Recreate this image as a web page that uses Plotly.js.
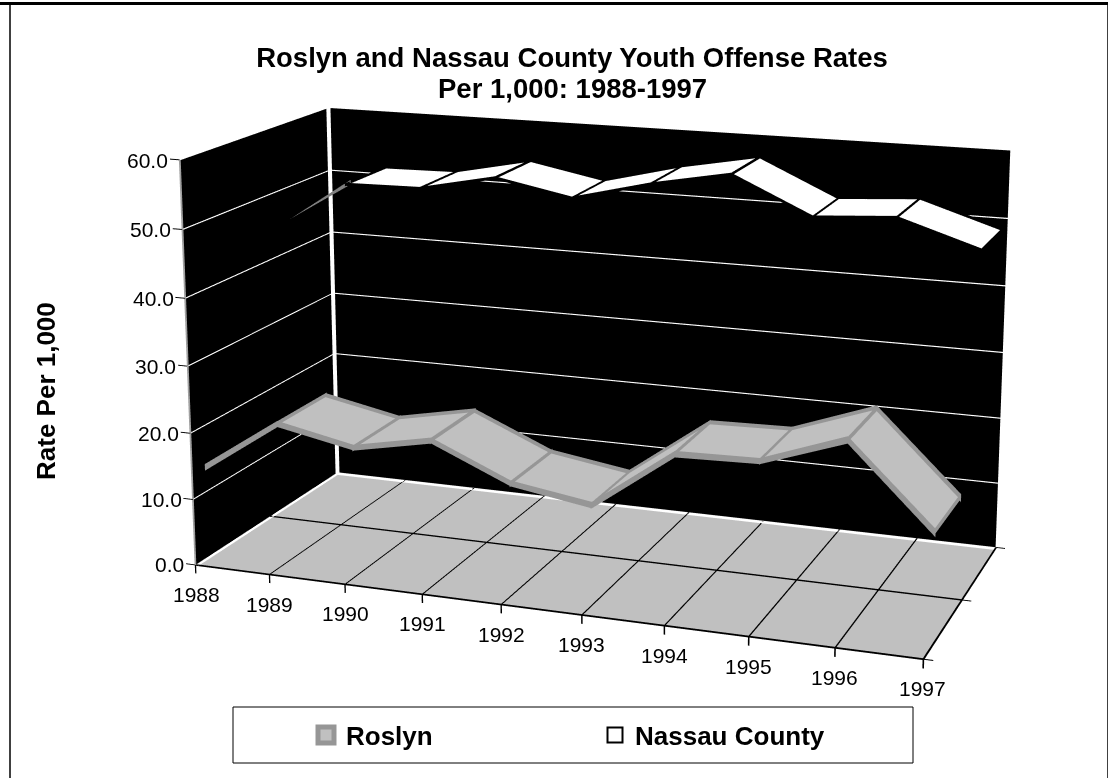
<!DOCTYPE html>
<html><head><meta charset="utf-8"><script src="https://cdn.plot.ly/plotly-3.0.1.min.js"></script>
<style>
html,body{margin:0;padding:0;background:#fff;overflow:hidden}
#stage{position:relative;width:1108px;height:778px;overflow:hidden}
#scene3d{position:absolute;left:-87px;top:-783px}
#overlay{position:absolute;left:0;top:0}
</style></head>
<body><div id="stage"><div id="scene3d"></div><div id="overlay"></div></div>
<script>
// Youth offense rates per 1,000, 1988-1997
const years = [1988,1989,1990,1991,1992,1993,1994,1995,1996,1997];
const roslyn = [13.7,21.5,19.2,21.5,16.5,14.7,23.3,23.6,27.8,16.4];
const nassau = [44.8,52.0,52.2,54.6,52.4,55.3,57.5,52.2,53.0,49.3];
const rateTicks = [0,10,20,30,40,50,60];
const seriesNames = ['Roslyn','Nassau County'];
const chartTitle = 'Roslyn and Nassau County Youth Offense Rates';
const chartSubtitle = 'Per 1,000: 1988-1997';
const rateTitle = 'Rate Per 1,000';

const FONT = 'Arial, "Liberation Sans", sans-serif';
const GREY_FILL = '#c0c0c0', GREY_EDGE = '#969696';
const X0 = years[0], X1 = years[years.length - 1];
const DEPTH = 2, ZMAX = 60;

// Coplanar marks are pushed slightly along the viewing ray so they stay on top.
const TOWARD_VIEWER = [0.015, -0.021, 0.14];
// Rate units per year that look equally long on screen; keeps steep rims as wide as flat ones.
const SCREEN_SLOPE = 0.082;

function newMesh(color) {
  return { type:'mesh3d', x:[], y:[], z:[], i:[], j:[], k:[], color, opacity:1, flatshading:true,
    lighting:{ambient:1,diffuse:0,specular:0,roughness:1,fresnel:0}, hoverinfo:'skip', showscale:false };
}
function quad(mesh, corners, level) {
  const n = mesh.x.length;
  corners.forEach(c => {
    mesh.x.push(c[0] + level * TOWARD_VIEWER[0]);
    mesh.y.push(c[1] + level * TOWARD_VIEWER[1]);
    mesh.z.push(c[2] + level * TOWARD_VIEWER[2]);
  });
  mesh.i.push(n, n); mesh.j.push(n + 1, n + 2); mesh.k.push(n + 2, n + 3);
}
// Straight bars with a thickness along one data axis
function barZ(m, a, b, hw, level, hwEnd) {
  const e = hwEnd === undefined ? hw : hwEnd;
  quad(m, [[a[0],a[1],a[2]-hw],[b[0],b[1],b[2]-e],[b[0],b[1],b[2]+e],[a[0],a[1],a[2]+hw]], level);
}
function barX(m, a, b, hw, level) { quad(m, [[a[0]-hw,a[1],a[2]],[b[0]-hw,b[1],b[2]],[b[0]+hw,b[1],b[2]],[a[0]+hw,a[1],a[2]]], level); }
function barY(m, a, b, hw, level) { quad(m, [[a[0],a[1]-hw,a[2]],[b[0],b[1]-hw,b[2]],[b[0],b[1]+hw,b[2]],[a[0],a[1]+hw,a[2]]], level); }

// A flat ribbon between two depths; the first span collapses to its front edge,
// which is drawn only when the series asks for it.
function ribbon(values, front, back, fill, edge, halfWidth, drawFirstSpan) {
  const face = newMesh(fill), rim = newMesh(edge);
  const last = values.length - 1;
  const OVERRUN = 0.012, OVERRUN_Y = 0.02;
  const spanStretch = n => Math.hypot(1, (values[n+1] - values[n]) * SCREEN_SLOPE);
  const width = values.map((v, n) => {
    if (n === 0) return halfWidth * spanStretch(0);
    if (n === last) return halfWidth * spanStretch(last - 1);
    return halfWidth * (spanStretch(n - 1) + spanStretch(n)) / 2;
  });
  for (let n = 1; n < last; n++) {
    quad(face, [[years[n],front,values[n]],[years[n+1],front,values[n+1]],[years[n+1],back,values[n+1]],[years[n],back,values[n]]], 1);
  }
  // Long edges; the far end runs on a little so the rim closes at the corners.
  for (let n = 0; n < last; n++) {
    const slope = values[n+1] - values[n];
    const end = n === last - 1 ? OVERRUN : 0;
    const xb = years[n+1] + end, zb = values[n+1] + end * slope;
    if (n > 0 || drawFirstSpan) barZ(rim, [years[n],front,values[n]], [xb,front,zb], width[n], 2, width[n+1]);
    if (n > 0) barZ(rim, [years[n],back,values[n]], [xb,back,zb], width[n], 2, width[n+1]);
  }
  for (let n = 1; n < values.length; n++) {
    barZ(rim, [years[n],front-OVERRUN_Y,values[n]], [years[n],back+OVERRUN_Y,values[n]], halfWidth, 2);
  }
  return [face, rim];
}

// Walls and floor
const walls = newMesh('#000000');
quad(walls, [[X0,DEPTH,0],[X1,DEPTH,0],[X1,DEPTH,ZMAX],[X0,DEPTH,ZMAX]], 0);
quad(walls, [[X0,0,0],[X0,DEPTH,0],[X0,DEPTH,ZMAX],[X0,0,ZMAX]], 0);
const floor = newMesh(GREY_FILL);
quad(floor, [[X0,0,0],[X1,0,0],[X1,DEPTH,0],[X0,DEPTH,0]], 0);

// White rate gridlines on the walls and the white corner edges
const white = newMesh('#ffffff');
rateTicks.filter(t => t > 0 && t < ZMAX).forEach(t => {
  barZ(white, [X0,DEPTH,t], [X1,DEPTH,t], 0.09, 1);
  barZ(white, [X0,0,t], [X0,DEPTH,t], 0.09, 1);
});
quad(white, [[X0,DEPTH,0],[X0+0.03,DEPTH,0],[X0+0.03,DEPTH,ZMAX],[X0,DEPTH,ZMAX]], 1);
quad(white, [[X0,DEPTH-0.03,0],[X0,DEPTH,0],[X0,DEPTH,ZMAX],[X0,DEPTH-0.03,ZMAX]], 1);
quad(white, [[X0,0,0],[X0+0.05,0,0],[X0+0.05,DEPTH,0],[X0,DEPTH,0]], 1);
quad(white, [[X0,DEPTH-0.05,0],[X1,DEPTH-0.05,0],[X1,DEPTH,0],[X0,DEPTH,0]], 1);

// Black floor grid, axis edges and tick marks
const ink = newMesh('#000000');
years.slice(1, -1).forEach(t => barX(ink, [t,0,0], [t,DEPTH,0], 0.009, 1));
barY(ink, [X0,1,0], [X1,1,0], 0.012, 1);
barZ(ink, [X0,0,0], [X1,0,0], 0.13, 1);
barX(ink, [X1,0,0], [X1,DEPTH,0], 0.012, 1);
years.forEach(t => barX(ink, [t,0,0], [t,0,-1.3], 0.009, 1));
[0,1,2].forEach(d => barZ(ink, [X1,d,0], [X1+0.11,d,0], 0.07, 1));
rateTicks.forEach(t => barZ(ink, [X0-0.13,0,t], [X0,0,t], 0.07, 1));
const rateAxis = newMesh('#a0a0a0');
barX(rateAxis, [X0,0,0], [X0,0,ZMAX], 0.012, 1);

// The first Nassau County span shows only as a tapering grey sliver.
const nassauStub = newMesh('#808080');
quad(nassauStub, [[years[0],1.41,nassau[0]],[years[1],1.27,nassau[1]-0.35],[years[1],1.27,nassau[1]+0.35],[years[0],1.41,nassau[0]]], 3);

const traces = [walls, floor, white, ink, rateAxis,
  ...ribbon(nassau, 1.2, 1.8, '#ffffff', '#000000', 0.22, false), nassauStub,
  ...ribbon(roslyn, 0.17, 0.83, GREY_FILL, GREY_EDGE, 0.42, true)];

const rateLabels = rateTicks.map(t => ({ x:X0, y:0, z:t, text:t.toFixed(1), showarrow:false,
  xanchor:'right', xshift:-10, font:{family:FONT,size:21,color:'#000'} }));
const yearLabels = years.map(t => ({ x:t, y:0, z:0, text:String(t), showarrow:false,
  yshift:-30, font:{family:FONT,size:21,color:'#000'} }));

const hiddenAxis = { visible:false, showbackground:false, showgrid:false, zeroline:false, showspikes:false, autorange:false, title:{text:''} };
const sceneLayout = {
  domain:{x:[0,1],y:[0,1]},
  aspectmode:'manual', aspectratio:{x:1.1111,y:0.5479,z:0.6470},
  camera:{ eye:{x:1.1433,y:-3.1281,z:0.8949}, center:{x:0.0086,y:0.0278,z:0.0980}, up:{x:-0.0790,y:0.2172,z:0.9729}, projection:{type:'perspective'} },
  xaxis:{...hiddenAxis, range:[X0-0.5,X1+0.5]},
  yaxis:{...hiddenAxis, range:[-0.25,DEPTH+0.25]},
  zaxis:{...hiddenAxis, range:[-5,ZMAX+5]},
  annotations:[...rateLabels, ...yearLabels]
};

Plotly.newPlot('scene3d', traces, {
  width:1400, height:2134, margin:{l:0,r:0,t:0,b:0}, paper_bgcolor:'#ffffff', showlegend:false, scene:sceneLayout
}, {displayModeBar:false});

// Two-dimensional overlay: frame, heading, axis title and legend
const legendTraces = [
  { type:'scatter', mode:'markers', name:seriesNames[0], x:[null], y:[null], marker:{symbol:'square',size:18,color:GREY_FILL,line:{color:GREY_EDGE,width:5}} },
  { type:'scatter', mode:'markers', name:seriesNames[1], x:[null], y:[null], marker:{symbol:'square',size:15,color:'#ffffff',line:{color:'#000000',width:2}} }
];
const W = 1108, H = 778;
const line = (x0,y0,x1,y1,color,width) => ({type:'line',xref:'paper',yref:'paper',x0:x0/W,x1:x1/W,y0:1-y0/H,y1:1-y1/H,line:{color,width}});
const headingFont = {family:FONT,size:27.5,color:'#000',weight:700};
Plotly.newPlot('overlay', legendTraces, {
  width:W, height:H, margin:{l:0,r:0,t:0,b:0}, paper_bgcolor:'rgba(0,0,0,0)', plot_bgcolor:'rgba(0,0,0,0)',
  xaxis:{visible:false,range:[0,1]}, yaxis:{visible:false,range:[0,1]},
  title:{text:chartTitle, x:572/W, xanchor:'center', y:1-57/H, yanchor:'middle', font:headingFont},
  annotations:[
    { xref:'paper', yref:'paper', x:572/W, y:1-88/H, xanchor:'center', yanchor:'middle', text:chartSubtitle, showarrow:false, font:headingFont },
    { xref:'paper', yref:'paper', x:46/W, y:1-391/H, xanchor:'center', yanchor:'middle', text:rateTitle, textangle:-90, showarrow:false, font:{family:FONT,size:26,color:'#000',weight:700} }
  ],
  shapes:[
    line(0,3.5,W,3.5,'#000000',3),
    line(10,5,10,H,'#404040',2),
    line(W-0.5,5,W-0.5,H,'#404040',1),
    {type:'rect',xref:'paper',yref:'paper',x0:233/W,x1:913/W,y0:1-763/H,y1:1-707/H,line:{color:'#000',width:1},fillcolor:'#ffffff',layer:'below'}
  ],
  showlegend:true,
  legend:{orientation:'h', x:306/W, xanchor:'left', y:1-735/H, yanchor:'middle', bgcolor:'rgba(0,0,0,0)', borderwidth:0, entrywidth:244, entrywidthmode:'pixels', font:{family:FONT,size:26,color:'#000',weight:700}}
}, {displayModeBar:false, staticPlot:true});
</script></body></html>
